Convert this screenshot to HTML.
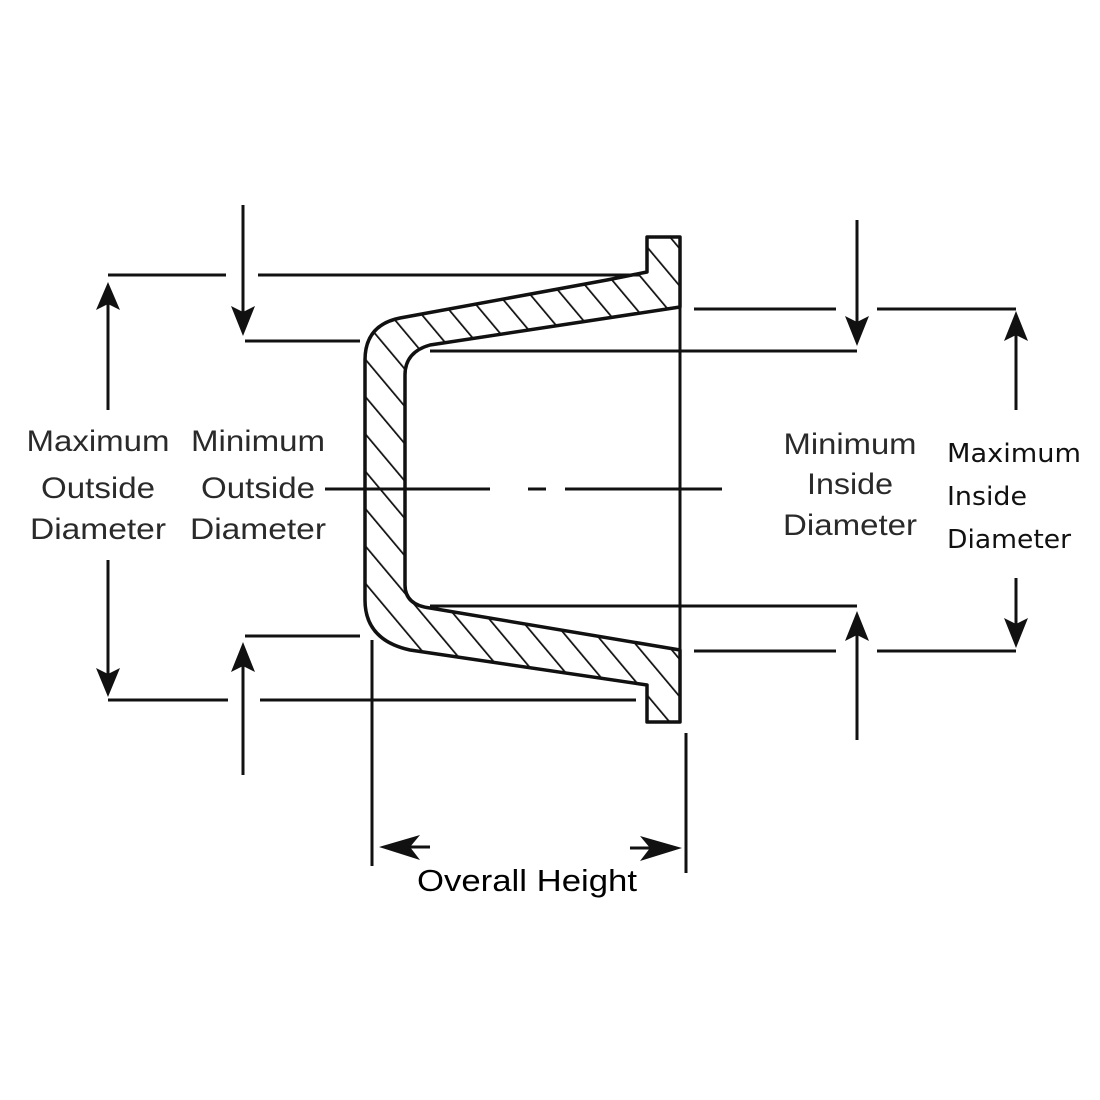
<!DOCTYPE html>
<html><head><meta charset="utf-8"><style>
html,body{margin:0;padding:0;background:#fff;}
svg{display:block}
.t{font-family:"Liberation Sans",sans-serif;fill:#2a2a2a;font-size:30px;}
.c{font-family:"DejaVu Sans","Liberation Sans",sans-serif;fill:#111;font-size:26px;}
</style></head><body>
<svg width="1100" height="1100" viewBox="0 0 1100 1100" xmlns="http://www.w3.org/2000/svg">
<defs>
<pattern id="h" patternUnits="userSpaceOnUse" width="24" height="24" patternTransform="rotate(-40)">
<line x1="0" y1="0" x2="0" y2="24" stroke="#111" stroke-width="3.5"/>
</pattern>
<clipPath id="cp"><path d="M647,237 L680,237 L680,307 L430,345 Q405,352 405,375 L405,585 Q405,605 430,608 L680,650 L680,722 L647,722 L647,685 L410,650 Q365,640 365,600 L365,360 Q365,325 400,318 L607,280 L647,272 Z"/></clipPath>
</defs>
<g clip-path="url(#cp)"><rect x="340" y="220" width="360" height="520" fill="url(#h)"/></g>
<path d="M647,237 L680,237 L680,307 L430,345 Q405,352 405,375 L405,585 Q405,605 430,608 L680,650 L680,722 L647,722 L647,685 L410,650 Q365,640 365,600 L365,360 Q365,325 400,318 L607,280 L647,272 Z" fill="none" stroke="#111" stroke-width="3.5" stroke-linejoin="round"/>
<g stroke="#111" stroke-width="3" fill="none">
<line x1="680" y1="237" x2="680" y2="722"/>
<line x1="108" y1="275" x2="226" y2="275"/><line x1="258" y1="275" x2="640" y2="275"/>
<line x1="108" y1="700" x2="228" y2="700"/><line x1="260" y1="700" x2="636" y2="700"/>
<line x1="108" y1="300" x2="108" y2="410"/><line x1="108" y1="560" x2="108" y2="680"/>
<line x1="245" y1="341" x2="360" y2="341"/><line x1="245" y1="636" x2="360" y2="636"/>
<line x1="243" y1="205" x2="243" y2="318"/><line x1="243" y1="662" x2="243" y2="775"/>
<line x1="325" y1="489" x2="490" y2="489"/><line x1="528" y1="489" x2="546" y2="489"/><line x1="565" y1="489" x2="722" y2="489"/>
<line x1="372" y1="640" x2="372" y2="866"/><line x1="686" y1="733" x2="686" y2="873"/>
<line x1="400" y1="847" x2="430" y2="847"/><line x1="630" y1="848" x2="660" y2="848"/>
<line x1="430" y1="351" x2="857" y2="351"/><line x1="430" y1="606" x2="857" y2="606"/>
<line x1="857" y1="220" x2="857" y2="325"/><line x1="857" y1="632" x2="857" y2="740"/>
<line x1="694" y1="309" x2="836" y2="309"/><line x1="877" y1="309" x2="1016" y2="309"/>
<line x1="694" y1="651" x2="836" y2="651"/><line x1="877" y1="651" x2="1016" y2="651"/>
<line x1="1016" y1="330" x2="1016" y2="410"/><line x1="1016" y1="578" x2="1016" y2="628"/>
</g>
<g fill="#111">
<path d="M108,282 L96,310 L108,304 L120,310Z"/>
<path d="M108,697 L96,668 L108,674 L120,668Z"/>
<path d="M243,336 L231,306 L243,312 L255,306Z"/>
<path d="M243,642 L231,672 L243,666 L255,672Z"/>
<path d="M857,346 L845,316 L857,322 L869,316Z"/>
<path d="M857,611 L845,641 L857,635 L869,641Z"/>
<path d="M1016,311 L1004,341 L1016,335 L1028,341Z"/>
<path d="M1016,648 L1004,618 L1016,624 L1028,618Z"/>
<path d="M379,847 L420,835 L410,847 L420,860Z"/>
<path d="M682,848 L640,836 L650,848 L640,861Z"/>
</g>
<g class="t" text-anchor="middle">
<text x="98" y="451" textLength="143" lengthAdjust="spacingAndGlyphs">Maximum</text>
<text x="98" y="498" textLength="114" lengthAdjust="spacingAndGlyphs">Outside</text>
<text x="98" y="539" textLength="136" lengthAdjust="spacingAndGlyphs">Diameter</text>
<text x="258" y="451" textLength="134" lengthAdjust="spacingAndGlyphs">Minimum</text>
<text x="258" y="498" textLength="114" lengthAdjust="spacingAndGlyphs">Outside</text>
<text x="258" y="539" textLength="136" lengthAdjust="spacingAndGlyphs">Diameter</text>
<text x="850" y="454" textLength="133" lengthAdjust="spacingAndGlyphs">Minimum</text>
<text x="850" y="494" textLength="86" lengthAdjust="spacingAndGlyphs">Inside</text>
<text x="850" y="535" textLength="134" lengthAdjust="spacingAndGlyphs">Diameter</text>
</g>
<g class="c">
<text x="947" y="462" textLength="134" lengthAdjust="spacingAndGlyphs">Maximum</text>
<text x="947" y="505" textLength="80" lengthAdjust="spacingAndGlyphs">Inside</text>
<text x="947" y="548" textLength="124" lengthAdjust="spacingAndGlyphs">Diameter</text>
</g>
<text x="527" y="891" text-anchor="middle" font-family="Liberation Sans, sans-serif" font-size="31" fill="#000" textLength="220" lengthAdjust="spacingAndGlyphs">Overall Height</text>
</svg>
</body></html>
